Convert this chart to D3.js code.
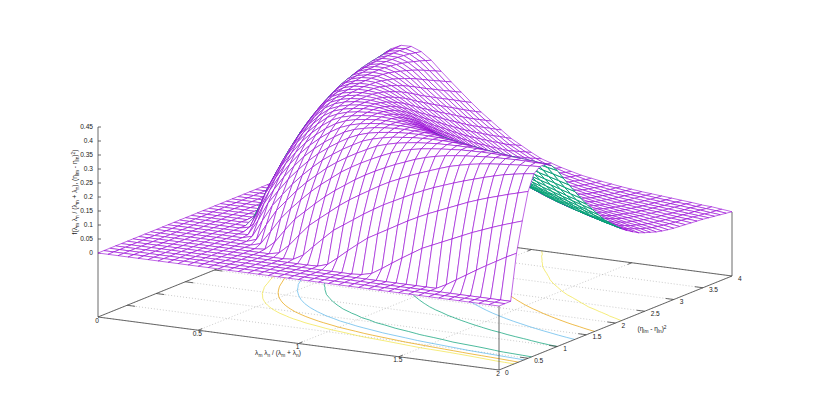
<!DOCTYPE html>
<html lang="en">
<head>
<meta charset="UTF-8">
<title>Surface plot</title>
<script src="https://d3js.org/d3.v7.min.js"></script>
<style>
  body { margin: 0; background: #fff; }
  svg { display: block; }
  text { font-family: "Liberation Sans", sans-serif; font-size: 6.6px; fill: #222; }
</style>
</head>
<body>
<svg width="830" height="412"></svg>
<script>
// grid of the surface
const xSamples = d3.range(41).map(j => j * 0.05);
const ySamples = d3.range(41).map(k => k * 0.1);

// z, in thousandths; one row per y sample, one column per x sample
const surfaceRows = [
[0,0,0,0,0,0,0,0,0,0,0,0,0,0,0,0,0,0,0,0,0,0,0,0,0,0,0,0,0,0,0,0,0,0,0,0,0,0,0,0,0],
[0,0,0,0,0,0,0,0,0,0,0,0,0,0,0,0,0,0,0,0,0,0,0,0,0,0,0,0,0,0,0,0,0,0,0,0,0,0,0,0,0],
[0,0,0,0,0,0,0,0,0,0,0,0,0,0,0,0,0,0,0,0,0,0,0,0,0,0,0,0,0,0,0,0,0,0,0,0,0,0,0,0,0],
[0,0,0,0,0,0,0,0,0,0,0,0,0,0,0,0,0,0,0,0,0,0,0,0,0,0,0,0,0,0,0,0,0,18,40,62,84,105,125,145,163],
[0,0,0,0,0,0,0,0,0,0,0,0,0,0,0,0,0,0,0,0,0,0,0,0,3,12,34,58,81,103,125,141,157,173,189,205,219,233,246,258,270],
[0,0,0,0,0,0,0,0,0,0,0,0,0,0,0,0,0,0,0,1,12,40,70,98,125,145,165,185,205,223,240,255,270,285,300,313,325,336,347,357,367],
[0,0,0,0,0,0,0,0,0,0,0,0,0,0,0,0,3,23,58,92,125,149,173,197,219,240,258,276,294,310,325,338,351,363,374,385,395,404,411,417,422],
[0,0,0,0,0,0,0,0,0,0,0,0,0,0,8,40,81,120,149,177,205,230,252,273,294,313,329,345,359,372,385,397,406,414,420,425,429,432,435,437,439],
[0,0,0,0,0,0,0,0,0,0,0,0,3,34,81,125,157,189,219,246,270,294,315,334,351,367,381,395,406,415,422,427,431,434,437,439,440,441,441,440,440],
[0,0,0,0,0,0,0,0,0,0,0,10,58,109,149,185,219,249,276,303,325,345,363,380,395,407,417,424,429,433,436,439,440,441,441,440,439,437,434,430,426],
[0,0,0,0,0,0,0,0,0,0,12,70,125,165,205,240,270,300,325,347,367,385,402,413,422,428,433,436,439,440,441,441,440,438,435,431,426,420,414,407,400],
[0,0,0,0,0,0,0,0,0,10,70,129,173,215,252,285,315,340,363,383,402,414,423,430,434,438,440,441,441,440,438,435,430,424,418,411,403,394,384,375,365],
[0,0,0,0,0,0,0,0,3,58,125,173,219,258,294,325,351,374,395,411,422,429,434,438,440,441,440,439,436,431,426,419,411,403,393,383,372,362,352,342,332],
[0,0,0,0,0,0,0,0,34,109,165,215,258,297,329,357,381,403,417,426,433,437,440,441,440,439,436,430,424,416,407,397,386,375,363,353,342,331,321,310,300],
[0,0,0,0,0,0,0,8,81,149,205,252,294,329,359,385,406,420,429,435,439,440,441,440,436,431,424,415,406,395,383,370,358,347,335,324,313,302,290,279,268],
[0,0,0,0,0,0,0,40,125,185,240,285,325,357,385,407,422,431,436,440,441,440,438,433,426,417,407,396,383,369,357,344,332,320,308,296,284,272,260,249,238],
[0,0,0,0,0,0,3,81,157,219,270,315,351,381,406,422,431,437,440,441,440,436,430,421,411,400,386,372,358,345,332,319,306,294,281,268,256,244,233,222,211],
[0,0,0,0,0,0,23,120,189,249,300,340,374,403,420,431,437,440,441,440,435,428,418,406,393,378,363,349,335,322,308,294,281,267,254,241,230,218,207,195,184],
[0,0,0,0,0,0,58,149,219,276,325,363,395,417,429,436,440,441,439,434,426,415,403,388,372,357,342,327,313,298,284,270,256,243,230,218,205,193,182,170,158],
[0,0,0,0,0,1,92,177,246,303,347,383,411,426,435,440,441,440,434,425,414,401,384,368,352,336,321,306,290,275,260,246,233,220,207,194,182,169,157,148,138],
[0,0,0,0,0,12,125,205,270,325,367,402,422,433,439,441,440,435,426,414,400,383,365,349,332,316,300,284,268,253,238,224,211,197,184,171,158,148,138,128,118],
[0,0,0,0,0,40,149,230,294,345,385,414,429,437,440,440,436,428,415,401,383,364,347,330,313,296,279,263,247,232,218,203,190,176,162,150,140,130,119,110,100],
[0,0,0,0,0,70,173,252,315,363,402,423,434,440,441,438,430,418,403,384,365,347,329,311,294,276,259,243,227,212,197,183,168,155,144,133,122,112,102,93,85],
[0,0,0,0,0,98,197,273,334,380,413,430,438,441,440,433,421,406,388,368,349,330,311,293,274,257,240,223,208,193,178,163,150,138,127,116,105,97,91,80,72],
[0,0,0,0,3,125,219,294,351,395,422,434,440,440,436,426,411,393,372,352,332,313,294,274,256,238,222,205,190,174,158,146,134,122,111,100,93,85,77,69,60],
[0,0,0,0,12,145,240,313,367,407,428,438,441,439,431,417,400,378,357,336,316,296,276,257,238,221,204,188,171,156,143,131,118,107,97,91,84,75,68,61,52],
[0,0,0,0,34,165,258,329,381,417,433,440,440,436,424,407,386,363,342,321,300,279,259,240,222,204,187,170,154,141,128,115,104,95,88,81,74,67,59,53,45],
[0,0,0,0,58,185,276,345,395,424,436,441,439,430,415,396,372,349,327,306,284,263,243,223,205,188,170,154,140,126,114,101,93,86,79,72,66,58,53,46,38],
[0,0,0,0,81,205,294,359,406,429,439,441,436,424,406,383,358,335,313,290,268,247,227,208,190,171,154,140,126,112,100,92,85,77,71,64,59,53,46,40,33],
[0,0,0,0,103,223,310,372,415,433,440,440,431,416,395,369,345,322,298,275,253,232,212,193,174,156,141,126,112,100,92,84,76,70,63,58,53,47,41,36,29],
[0,0,0,0,125,240,325,385,422,436,441,438,426,407,383,357,332,308,284,260,238,218,197,178,158,143,128,114,100,92,84,76,69,62,57,53,48,42,37,32,26],
[0,0,0,0,141,255,338,397,427,439,441,435,419,397,370,344,319,294,270,246,224,203,183,163,146,131,115,101,92,84,76,69,62,57,52,47,43,38,33,29,24],
[0,0,0,3,157,270,351,406,431,440,440,430,411,386,358,332,306,281,256,233,211,190,168,150,134,118,104,93,85,76,69,62,56,51,47,42,39,34,30,26,22],
[0,0,0,10,173,285,363,414,434,441,438,424,403,375,347,320,294,267,243,220,197,176,155,138,122,107,95,86,77,70,62,57,51,46,43,39,35,31,27,24,20],
[0,0,0,23,189,300,374,420,437,441,435,418,393,363,335,308,281,254,230,207,184,162,144,127,111,97,88,79,71,63,57,52,47,43,39,35,32,28,24,21,18],
[0,0,0,40,205,313,385,425,439,440,431,411,383,353,324,296,268,241,218,194,171,150,133,116,100,91,81,72,64,58,53,47,42,39,35,32,29,24,22,19,16],
[0,0,0,58,219,325,395,429,440,439,426,403,372,342,313,284,256,230,205,182,158,140,122,105,93,84,74,66,59,53,48,43,39,35,32,29,25,22,19,16,13],
[0,0,0,76,233,336,404,432,441,437,420,394,362,331,302,272,244,218,193,169,148,130,112,97,87,77,69,60,55,49,44,40,36,32,29,25,23,19,17,13,10],
[0,0,0,92,246,347,411,435,441,434,414,384,352,321,290,260,233,207,182,157,138,119,102,91,80,71,63,56,50,45,41,36,33,29,26,23,20,17,14,10,7],
[0,0,0,109,258,357,417,437,440,430,407,375,342,310,279,249,222,195,170,148,128,110,95,84,74,66,58,52,46,42,37,33,30,26,23,20,18,14,11,8,4],
[0,0,0,125,270,367,422,439,440,426,400,365,332,300,268,238,211,184,158,138,118,100,89,78,69,60,54,48,43,38,34,30,27,24,21,18,15,11,9,5,1]
];

const contourLevels = [400, 300, 200, 100];
const contourColors = ["#009e73", "#56b4e9", "#e69f00", "#f0e442"];

const xTicks = [0, 0.5, 1, 1.5, 2];
const yTicks = [0, 0.5, 1, 1.5, 2, 2.5, 3, 3.5, 4];
const zTicks = [0, 0.05, 0.1, 0.15, 0.2, 0.25, 0.3, 0.35, 0.4, 0.45];

// oblique view, split into one screen offset scale per data axis
const xToLeft = d3.scaleLinear().domain([0, 2]).range([98, 499]);
const xToTop = d3.scaleLinear().domain([0, 2]).range([317, 370]);
const yToLeft = d3.scaleLinear().domain([0, 4]).range([0, 233]);
const yToTop = d3.scaleLinear().domain([0, 4]).range([0, -94]);
const zToTop = d3.scaleLinear().domain([0, 0.45]).range([-64, -190]);

const left = (x, y) => xToLeft(x) + yToLeft(y);
const base = (x, y) => xToTop(x) + yToTop(y);
const top3d = (x, y, z) => base(x, y) + zToTop(z);

const svg = d3.select("svg");
const ink = "#444";
const lineOf = d3.line();

// grid on the base
const gridLines = [
  ...xTicks.map(v => [[v, 0], [v, 4]]),
  ...yTicks.map(v => [[0, v], [2, v]])
];
svg.append("g").selectAll("path").data(gridLines).join("path")
  .attr("d", d => lineOf(d.map(p => [left(p[0], p[1]), base(p[0], p[1])])))
  .attr("fill", "none")
  .attr("stroke", "#aaa")
  .attr("stroke-width", 0.6)
  .attr("stroke-dasharray", "1,2");

// contours on the base
const flat = surfaceRows.flat();
const rings = d3.contours().size([41, 41]).thresholds(contourLevels)(flat);
const inGrid = p => p[0] > 0 && p[0] < 41 && p[1] > 0 && p[1] < 41;
const toData = c => Math.min(Math.max(c - 0.5, 0), 40);
const contourLine = d3.line()
  .defined(inGrid)
  .x(p => left(toData(p[0]) * 0.05, toData(p[1]) * 0.1))
  .y(p => base(toData(p[0]) * 0.05, toData(p[1]) * 0.1));
rings.forEach(level => {
  const colour = contourColors[contourLevels.indexOf(level.value)];
  level.coordinates.forEach(poly => poly.forEach(ring => {
    svg.append("path")
      .attr("d", contourLine(ring))
      .attr("fill", "none")
      .attr("stroke", colour)
      .attr("stroke-width", 0.7);
  }));
});

// border of the base and the vertical axes
const borders = [
  [[0, 0], [2, 0]], [[2, 0], [2, 4]], [[2, 4], [0, 4]], [[0, 4], [0, 0]]
];
svg.append("g").selectAll("path").data(borders).join("path")
  .attr("d", d => lineOf(d.map(p => [left(p[0], p[1]), base(p[0], p[1])])))
  .attr("stroke", ink).attr("stroke-width", 0.8).attr("fill", "none");
const uprights = [[0, 0, 0.45], [2, 0, 0], [2, 4, 0]];
svg.append("g").selectAll("line").data(uprights).join("line")
  .attr("x1", d => left(d[0], d[1])).attr("x2", d => left(d[0], d[1]))
  .attr("y1", d => base(d[0], d[1])).attr("y2", d => top3d(d[0], d[1], d[2]))
  .attr("stroke", ink).attr("stroke-width", 0.8);

// ticks
const tickSegs = [
  ...xTicks.slice(1, -1).map(v => [[v, 0], [v, 0.07]]),
  ...xTicks.slice(1, -1).map(v => [[v, 4], [v, 3.93]]),
  ...yTicks.slice(1, -1).map(v => [[2, v], [1.96, v]]),
  ...yTicks.slice(1, -1).map(v => [[0, v], [0.04, v]])
];
svg.append("g").selectAll("path").data(tickSegs).join("path")
  .attr("d", d => lineOf(d.map(p => [left(p[0], p[1]), base(p[0], p[1])])))
  .attr("stroke", ink).attr("stroke-width", 0.8);
svg.append("g").selectAll("line").data(zTicks).join("line")
  .attr("x1", left(0, 0)).attr("x2", left(0, 0) + 3)
  .attr("y1", d => top3d(0, 0, d)).attr("y2", d => top3d(0, 0, d))
  .attr("stroke", ink).attr("stroke-width", 0.8);

// surface quads, far row first so nearer ones hide what is behind them
const quads = [];
for (let k = 39; k >= 0; k--) {
  for (let j = 0; j < 40; j++) {
    const corners = [[j, k], [j + 1, k], [j + 1, k + 1], [j, k + 1]].map(c => {
      const x = xSamples[c[0]], y = ySamples[c[1]], z = surfaceRows[c[1]][c[0]] / 1000;
      return [left(x, y), top3d(x, y, z)];
    });
    quads.push(corners);
  }
}
svg.append("g").selectAll("path").data(quads).join("path")
  .attr("d", d => lineOf(d) + "Z")
  .attr("fill", "#fff")
  .attr("stroke", d => d3.polygonArea(d) > 0 ? "#9400d3" : "#009e73")
  .attr("stroke-width", d => d3.polygonArea(d) > 0 ? 0.6 : 0.9);

// tick labels
svg.append("g").selectAll("text").data(xTicks).join("text")
  .attr("x", d => left(d, 0) - 1)
  .attr("y", d => base(d, 0) + 5.5)
  .attr("text-anchor", "middle")
  .text(d => d);
svg.append("g").selectAll("text").data(yTicks).join("text")
  .attr("x", d => left(2, d) + 6)
  .attr("y", d => base(2, d) + 4.5)
  .text(d => d);
svg.append("g").selectAll("text").data(zTicks).join("text")
  .attr("x", 93)
  .attr("y", d => top3d(0, 0, d) + 2.3)
  .attr("text-anchor", "end")
  .text(d => d);

// axis titles with sub and superscripts: [text, shift]
function addRuns(sel, runs) {
  let last = 0;
  runs.forEach(r => {
    sel.append("tspan")
      .attr("dy", r[1] - last)
      .style("font-size", r[1] ? "4.8px" : "6.6px")
      .text(r[0]);
    last = r[1];
  });
}
const lam = (s) => [["\u03bb", 0], [s, 1.6]];
const xTitle = [...lam("m"), [" ", 0], ...lam("n"), [" / (", 0], ...lam("m"), [" + ", 0], ...lam("n"), [")", 0]];
const yTitle = [["(\u03b7", 0], ["lm", 1.6], [" - \u03b7", 0], ["ln", 1.6], [")", 0], ["2", -2.4]];
const zTitle = [["f(", 0], ...lam("m"), [" ", 0], ...lam("n"), [" / (", 0], ...lam("m"), [" + ", 0], ...lam("n"), ["), (\u03b7", 0], ["lm", 1.6], [" - \u03b7", 0], ["ln", 1.6], [")", 0], ["2", -2.4], [")", 0]];

addRuns(svg.append("text").attr("x", 278).attr("y", 355).attr("text-anchor", "middle"), xTitle);
addRuns(svg.append("text").attr("x", 652).attr("y", 331).attr("text-anchor", "middle"), yTitle);
addRuns(svg.append("text").attr("transform", "translate(77,192) rotate(-90)").attr("text-anchor", "middle"), zTitle);
</script>
</body>
</html>
